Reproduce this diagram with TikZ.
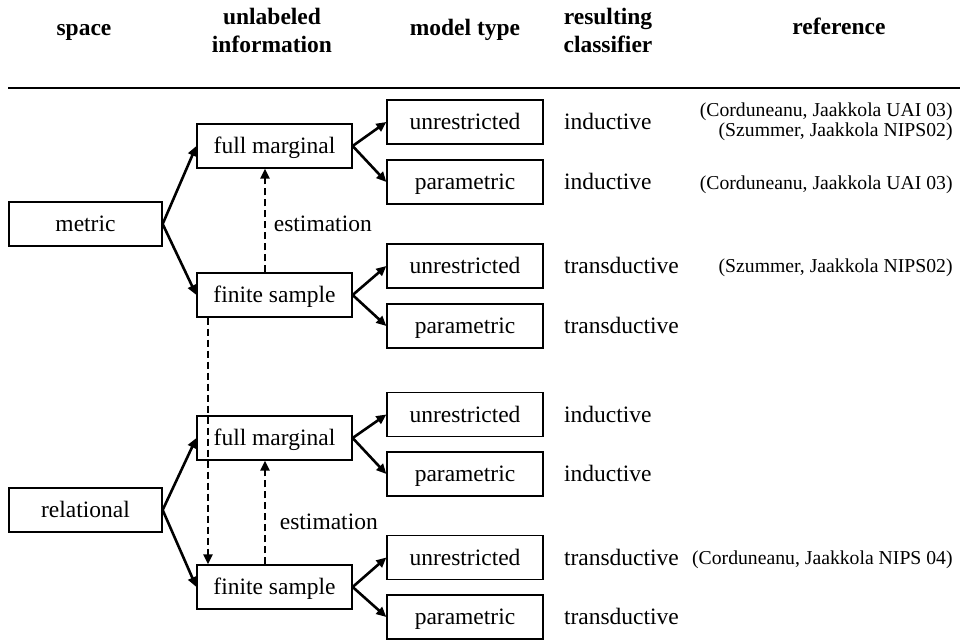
\documentclass[tikz,border=0pt]{standalone}
\usepackage{fontspec}
\setmainfont{Liberation Serif}
\usetikzlibrary{positioning,arrows.meta}

\begin{document}
\begin{tikzpicture}[x=0.5pt, y=-0.5pt, >={Triangle[length=5pt,width=4.5pt]},
  font=\fontsize{11.75}{14}\selectfont,
  box/.style={draw, line width=0.65pt, inner sep=0pt, minimum height=22pt, text height=1.7ex, text depth=0pt},
  src/.style={box, minimum width=76.5pt},
  info/.style={box, minimum width=77.5pt},
  kind/.style={box, minimum width=78pt},
  head/.style={font=\fontsize{11.75}{14}\selectfont\bfseries, align=center},
  cls/.style={inner sep=0pt, text height=1.7ex, text depth=0pt},
  cite/.style={anchor=east, inner sep=0pt, align=right, font=\fontsize{9.85}{10}\selectfont},
  link/.style={->, line width=1.3pt},
  est/.style={->, line width=1.2pt, dash pattern=on 3.5pt off 2pt}]
  \useasboundingbox (0,0) rectangle (960,641);
  \node[head, anchor=base] (hSpace) at (84,36) {space};
  \node[head] (hInfo)  at (272,30) {unlabeled\\information};
  \node[head, anchor=base] (hModel) at (465,36) {model type};
  \node[head] (hClass) at (608,30) {resulting\\classifier};
  \node[head, anchor=base] (hRef)   at (839,35) {reference};
  \draw[line width=1pt] (8,88) -- (960,88);
  \node[src] (met) at (85.5,224) {metric};
  \node[src] (rel) at (85.5,510) {relational};
  \node[info] (fmA) at (274.5,146) {full marginal};
  \node[info] (fsA) at (274.5,295) {finite sample};
  \node[info] (fmB) at (274.5,438) {full marginal};
  \node[info] (fsB) at (274.5,587) {finite sample};
  \node[kind] (uA) at (465,122) {unrestricted};
  \node[kind] (pA) at (465,182) {parametric};
  \node[kind] (uB) at (465,266) {unrestricted};
  \node[kind] (pB) at (465,326) {parametric};
  \node[kind] (uC) at (465,414.5) {unrestricted};
  \node[kind] (pC) at (465,474) {parametric};
  \node[kind] (uD) at (465,557.5) {unrestricted};
  \node[kind] (pD) at (465,617) {parametric};
  \node[cls, right=10pt of uA] (cA) {inductive};
  \node[cls, right=10pt of pA] (cB) {inductive};
  \node[cls, right=10pt of uB] (cC) {transductive};
  \node[cls, right=10pt of pB] (cD) {transductive};
  \node[cls, right=10pt of uC] (cE) {inductive};
  \node[cls, right=10pt of pC] (cF) {inductive};
  \node[cls, right=10pt of uD] (cG) {transductive};
  \node[cls, right=10pt of pD] (cH) {transductive};
  \node[cite] (rA) at (953,122) {(Corduneanu, Jaakkola UAI 03)\\(Szummer, Jaakkola NIPS02)};
  \node[cite] (rB) at (953,185) {(Corduneanu, Jaakkola UAI 03)};
  \node[cite] (rC) at (953,268) {(Szummer, Jaakkola NIPS02)};
  \node[cite] (rD) at (953,560) {(Corduneanu, Jaakkola NIPS 04)};
  \draw[link] (met.east) -- (fmA.west);
  \draw[link] (met.east) -- (fsA.west);
  \draw[link] (rel.east) -- (fmB.west);
  \draw[link] (rel.east) -- (fsB.west);
  \draw[link] (fmA.east) -- (uA.west);
  \draw[link] (fmA.east) -- (pA.west);
  \draw[link] (fsA.east) -- (uB.west);
  \draw[link] (fsA.east) -- (pB.west);
  \draw[link] (fmB.east) -- (uC.west);
  \draw[link] (fmB.east) -- (pC.west);
  \draw[link] (fsB.east) -- (uD.west);
  \draw[link] (fsB.east) -- (pD.west);
  \draw[est] ([xshift=-4.75pt]fsA.north) -- node[right=.5pt, pos=.47] (eA) {estimation} ([xshift=-4.75pt]fmA.south);
  \draw[est] ([xshift=-4.75pt]fsB.north) -- node[right=3.5pt, pos=.41] (eB) {estimation} ([xshift=-4.75pt]fmB.south);
  \draw[est] ([xshift=-33.25pt]fsA.south) -- ([xshift=-33.25pt]fsB.north);
\end{tikzpicture}
\end{document}
